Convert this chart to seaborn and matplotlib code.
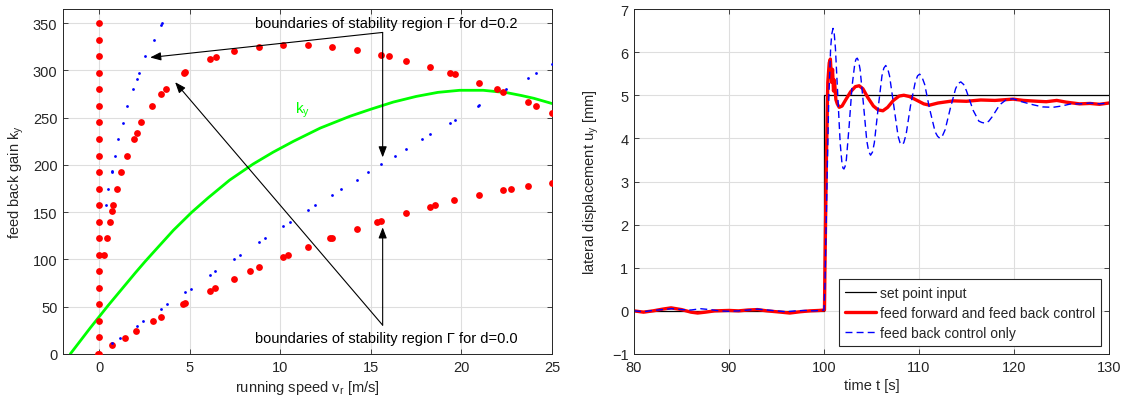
import matplotlib
matplotlib.use("Agg")
import matplotlib.pyplot as plt
import seaborn as sns

# ---------------- left panel data ----------------
red_v = [0, 0, 0, 0, 0, 0, 0, 0, 0, 0, 0, 0, 0, 0, 0, 0, 0, 0, 0, 0, 0, -0.05,
         0.28, 0.42, 0.57, 0.70, 0.75, 0.99, 1.23, 1.53, 1.91, 2.06, 2.33, 2.9, 3.4, 3.66,
         4.69, 4.76, 6.12, 6.45, 7.45, 8.83, 10.17, 11.51, 12.87, 14.21, 15.55, 16.0,
         16.92, 18.27, 19.36, 19.62, 20.96, 21.94, 22.3, 23.65, 24.1, 25.0,
         0.70, 1.40, 2.04, 2.98, 3.42, 4.65, 4.76, 6.12, 6.42, 7.45, 8.33, 8.81, 10.17,
         10.42, 11.51, 12.74, 12.87, 14.21, 15.35, 15.57, 16.92, 18.27, 18.53, 19.6,
         20.96, 22.3, 22.74, 23.65, 25.0]
red_k = [0, 17.5, 35, 52.5, 70, 87.5, 105, 122.5, 140, 157.5, 175, 192.5, 210, 227.5,
         245, 262.5, 280, 297.5, 315, 332.5, 350, 0,
         105, 122.5, 140, 151.5, 157.5, 175, 192.5, 210, 227.5, 234, 245, 262.5, 275, 280,
         297, 298, 312.3, 314.4, 320.4, 325, 326.7, 326.7, 324.6, 321.5, 316.5, 314.8,
         310.5, 303.5, 297.5, 295.8, 286.9, 279.9, 277, 266.1, 262.2, 254.5,
         9.8, 17.2, 24.6, 34.9, 39.4, 52.6, 53.6, 66.6, 69.8, 79.6, 87.4, 91.7, 102.9,
         104.7, 113.5, 122.3, 123, 132.5, 139.9, 141, 149.1, 155.8, 157.2, 162.5,
         168.1, 173.1, 174.5, 177.6, 181.1]

blue_v = [0.35, 0.51, 0.68, 0.70, 0.88, 1.06, 1.29, 1.56, 1.86, 2.06, 2.17, 2.55, 3.0,
          3.40, 3.46,
          0.70, 1.12, 2.08, 2.43, 3.42, 3.73, 4.76, 5.06, 6.12, 6.40, 7.45, 7.78, 8.83,
          9.14, 10.17, 10.53, 11.51, 11.93, 12.87, 13.35, 14.21, 14.84, 15.57, 16.31,
          16.92, 17.82, 18.27, 19.36, 19.62, 20.92, 20.98, 22.47, 23.65, 24.1, 25.0]
blue_k = [157.2, 174.8, 192.1, 193.5, 209.7, 227.3, 244.6, 262.2, 279.9, 291.1, 297.1,
          314.8, 332, 348.2, 349.7,
          11.6, 17.2, 30, 34.9, 47.9, 52.6, 65.9, 68.7, 83.5, 87.4, 100.8, 105, 118.4,
          122.3, 135.3, 139.9, 151.9, 157.5, 168.4, 174.8, 184.3, 192.1, 200.9, 209.7,
          216.8, 227.3, 232.3, 244.6, 247.8, 262.6, 263.3, 279.9, 292.2, 297.5, 307]

ky_v = [-1.6, -1.0, -0.5, 0.0, 0.5, 1.0, 1.5, 2.0, 2.54, 3.2, 4.1, 5.11, 6.0, 7.2,
        8.5, 9.6, 10.72, 12.2, 13.84, 15.0, 16.23, 17.5, 18.7, 19.9, 21.2, 22.5,
        23.3, 24.0, 25.0]
ky_k = [0, 15, 27.5, 39.5, 51.5, 63, 74.5, 86, 98, 112, 131, 150, 165, 184,
        201, 213.5, 225, 239, 251.5, 259, 266.5, 272.5, 276.8, 279, 279, 276.5,
        273.5, 270.5, 265]

# ---------------- right panel data ----------------
sp_t = [80, 100, 130]
sp_u = [0, 5, 5]

ff_t = [80, 81, 82, 83, 83.9, 85, 86, 86.7, 87.5, 88.5, 90, 91, 92, 93, 94, 95, 96.4,
        97.5, 98.5, 99.5, 100.05,
        100.1, 100.25, 100.4, 100.55, 100.67, 100.8, 100.9, 101.0, 101.1, 101.25, 101.4,
        101.6, 101.9, 102.3, 102.8, 103.3, 103.7, 104.1, 104.6, 105.2, 105.7, 106.2,
        106.7, 107.3, 107.9, 108.4, 109.0, 109.8, 110.5, 111.1, 112.0, 113.6, 115.0,
        116.5, 118.0, 119.9, 121.0, 122.5, 123.4, 124.5, 125.5, 126.9, 128.0, 129.0, 130.0]
ff_u = [0.0, -0.03, 0.0, 0.04, 0.07, 0.03, -0.03, -0.05, -0.03, 0.0, 0.01, 0.0, 0.02,
        0.03, 0.0, -0.02, -0.05, -0.02, 0.0, 0.01, 0.02,
        1.0, 3.5, 5.3, 5.75, 5.84, 5.3, 5.6, 5.1, 5.35, 4.9, 4.8,
        4.72, 4.75, 4.9, 5.08, 5.2, 5.22, 5.15, 4.95, 4.75, 4.66, 4.64,
        4.72, 4.88, 4.98, 5.0, 4.97, 4.88, 4.80, 4.77, 4.82, 4.87, 4.86,
        4.89, 4.88, 4.91, 4.88, 4.86, 4.85, 4.88, 4.84, 4.80, 4.81, 4.79, 4.82]

fb_t = [80, 81, 82, 83, 84, 85, 86, 87, 88, 89, 90, 91, 92, 93, 94, 95, 96, 97, 98, 99,
        100.0,
        100.1, 100.3, 100.5, 100.7, 100.82, 100.95, 101.08, 101.2, 101.45, 101.7, 101.9,
        102.0, 102.1, 102.22, 102.35, 102.65, 102.95, 103.25, 103.38, 103.5, 103.63,
        103.8, 104.15, 104.5, 104.7, 104.9, 105.1, 105.3, 105.7, 106.1, 106.3, 106.5,
        106.7, 106.9, 107.35, 107.8, 108.0, 108.2, 108.4, 108.65, 109.1, 109.6, 109.85,
        110.07, 110.3, 110.6, 111.1, 111.7, 111.95, 112.2, 112.45, 112.75, 113.3, 113.85,
        114.1, 114.4, 114.7, 115.0, 115.7, 116.3, 116.6, 117.0, 117.35, 117.7,
        118.5, 119.2, 119.9, 120.8, 122.0, 123.0, 124.1, 125.0, 126.0, 127.0, 128.0,
        129.0, 130.0]
fb_u = [0.0, -0.02, 0.01, 0.03, 0.05, 0.03, 0.02, 0.05, 0.03, 0.0, -0.01, 0.0, 0.02,
        0.04, 0.02, 0.0, -0.02, 0.0, 0.01, 0.0, 0.02,
        0.6, 2.8, 4.9, 6.1, 6.42, 6.55, 6.42, 6.1, 5.0, 3.9, 3.4,
        3.31, 3.29, 3.35, 3.5, 4.3, 5.2, 5.75, 5.84, 5.86, 5.8,
        5.6, 4.8, 3.95, 3.7, 3.61, 3.68, 3.9, 4.7, 5.45, 5.63, 5.69,
        5.62, 5.45, 4.75, 4.05, 3.9, 3.85, 3.9, 4.1, 4.75, 5.3, 5.45,
        5.49, 5.43, 5.25, 4.7, 4.15, 4.05, 4.0, 4.05, 4.2, 4.7, 5.15,
        5.27, 5.31, 5.25, 5.1, 4.65, 4.4, 4.37, 4.35, 4.4, 4.5,
        4.78, 4.9, 4.92, 4.85, 4.78, 4.73, 4.72, 4.75, 4.80, 4.80, 4.82,
        4.80, 4.82]

left_xticks = [0, 5, 10, 15, 20, 25]
left_yticks = [0, 50, 100, 150, 200, 250, 300, 350]
right_xticks = [80, 90, 100, 110, 120, 130]
right_yticks = [-1, 0, 1, 2, 3, 4, 5, 6, 7]

# ---------------- style ----------------
sns.set_theme(style="ticks")
plt.rcParams["font.family"] = ["Liberation Sans", "DejaVu Sans"]
plt.rcParams["mathtext.fontset"] = "custom"
plt.rcParams["mathtext.rm"] = "Liberation Sans"
FS = 10.5
tc = "#262626"

fig = plt.figure(figsize=(11.27, 4.06), dpi=100)
axL = fig.add_axes([63 / 1127, 51 / 406, (552 - 63) / 1127, 345 / 406])
axR = fig.add_axes([634 / 1127, 51 / 406, (1109 - 634) / 1127, 345 / 406])

for ax in (axL, axR):
    ax.grid(True, color="#dedede", linewidth=0.8)
    ax.set_axisbelow(True)
    ax.tick_params(direction="in", length=3.5, width=0.6, colors=tc, labelsize=FS,
                   top=True, right=True, pad=4)
    for s in ax.spines.values():
        s.set_color(tc)
        s.set_linewidth(0.7)

# ---------------- left panel ----------------
sns.lineplot(x=ky_v, y=ky_k, ax=axL, color="#00ff00", linewidth=2.0,
             estimator=None, sort=False)
sns.scatterplot(x=red_v, y=red_k, ax=axL, color="#ff0000", s=24, linewidth=0, zorder=3)
sns.scatterplot(x=blue_v, y=blue_k, ax=axL, color="#0000ff", s=4, linewidth=0, zorder=4)

axL.set_xlim(-2, 25)
axL.set_ylim(0, 365)
axL.set_xticks(left_xticks)
axL.set_yticks(left_yticks)
axL.set_xlabel(r"running speed v$_\mathrm{r}$ [m/s]", color=tc, fontsize=FS, labelpad=3)
axL.set_ylabel(r"feed back gain k$_\mathrm{y}$", color=tc, fontsize=FS, labelpad=5)

axL.text(11.2, 259, r"k$_\mathrm{y}$", color="#00ff00", fontsize=FS + 0.5, ha="center",
         va="center")

axL.text(8.6, 345.6, "boundaries of stability region Γ for d=0.2", fontsize=FS,
         color="black", ha="left", va="baseline")
axL.text(8.6, 13.2, "boundaries of stability region Γ for d=0.0", fontsize=FS,
         color="black", ha="left", va="baseline")

arrow_kw = dict(arrowstyle="-|>,head_length=0.65,head_width=0.25", color="black",
                lw=0.8, shrinkA=0, shrinkB=0, mutation_scale=10)
top_j = (15.65, 340.2)
bot_j = (15.65, 30.5)
axL.annotate("", xy=(2.81, 313.7), xytext=top_j, arrowprops=arrow_kw)
axL.annotate("", xy=(15.65, 208), xytext=top_j, arrowprops=arrow_kw)
axL.annotate("", xy=(4.19, 287.6), xytext=bot_j, arrowprops=arrow_kw)
axL.annotate("", xy=(15.65, 134), xytext=bot_j, arrowprops=arrow_kw)

# ---------------- right panel ----------------
sns.lineplot(x=sp_t, y=sp_u, ax=axR, color="black", linewidth=0.9,
             drawstyle="steps-post", estimator=None, sort=False,
             label="set point input")
sns.lineplot(x=ff_t, y=ff_u, ax=axR, color="#ff0000", linewidth=2.4,
             estimator=None, sort=False, label="feed forward and feed back control")
sns.lineplot(x=fb_t, y=fb_u, ax=axR, color="#0000ff", linewidth=1.0,
             estimator=None, sort=False, label="feed back control only")
axR.lines[-1].set_dashes((5, 3))

axR.set_xlim(80, 130)
axR.set_ylim(-1, 7)
axR.set_xticks(right_xticks)
axR.set_yticks(right_yticks)
axR.set_xlabel("time t [s]", color=tc, fontsize=FS, labelpad=3)
axR.set_ylabel(r"lateral displacement u$_\mathrm{y}$ [mm]", color=tc, fontsize=FS,
               labelpad=8)

leg = axR.legend(loc="lower right", fontsize=10, frameon=True, fancybox=False,
                 edgecolor="#262626", framealpha=1, handlelength=2.2,
                 handletextpad=0.3, labelspacing=0.45, borderaxespad=0.55,
                 borderpad=0.45)
leg.get_frame().set_linewidth(0.8)
for t in leg.get_texts():
    t.set_color(tc)

fig.savefig("out.png", dpi=100)
